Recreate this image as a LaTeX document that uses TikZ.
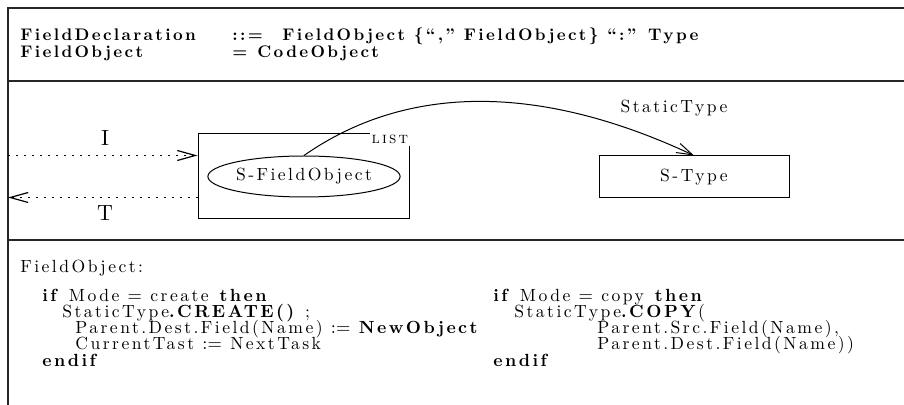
\documentclass[tikz,border=0pt]{standalone}
\usepackage{fontspec}
\setmainfont{lmroman10-regular.otf}[
  BoldFont=lmroman10-bold.otf,
  ItalicFont=lmroman10-italic.otf,
  SmallCapsFont=lmromancaps10-regular.otf,
  LetterSpace=14]
\usepackage{tikz}
\usetikzlibrary{positioning,arrows.meta,shapes.geometric}

\begin{document}
\begin{tikzpicture}[x=0.5pt,y=-0.5pt,font=\fontsize{8.8}{10}\selectfont,
  rule/.style={line width=0.8pt,draw=black!85},
  objbox/.style={draw,line width=0.5pt,inner sep=0pt},
  flow/.style={line width=0.6pt,dash pattern=on 1pt off 3pt,
    -{Straight Barb[length=9pt,width=5pt]}},
  link/.style={line width=0.5pt,-{Straight Barb[length=8pt,width=5pt]}},
  gram/.style={anchor=base west,inner sep=0pt,font=\fontsize{8.4}{10}\selectfont\bfseries},
  code/.style={anchor=base west,inner sep=0pt},
  port/.style={font=\fontsize{11}{13}\selectfont}]
\useasboundingbox (0,0) rectangle (904,405);
% frame and the two separators
\coordinate (frameL) at (8,8);
\draw[rule] (904,8) -- (frameL) -- (8,405);
\draw[rule] (8,81) -- (904,81);
\draw[rule] (8,240) -- (904,240);
% grammar rules
\node[gram] (lhs1) at (20,41) {FieldDeclaration};
\node[gram] (def1) at (232,41) {::=};
\node[gram] (rhs1) at (282,41) {FieldObject \{``,'' FieldObject\} ``:'' Type};
\node[gram] (lhs2) at (20,58) {FieldObject};
\node[gram] (def2) at (232,58) {=};
\node[gram] (rhs2) at (257,58) {CodeObject};
% object diagram
\node[objbox,minimum width=105.5pt,minimum height=42.5pt] (listbox) at (303.5,176.5) {};
\node[objbox,ellipse,minimum width=96pt,minimum height=20.5pt] (sfo) at (304,176.5) {S-FieldObject};
\node[fill=white,anchor=north east,inner sep=1pt,font=\fontsize{8}{10}\selectfont\scshape] (list)
  at ([shift={(1,-1)}]listbox.north east) {list};
\node[objbox,minimum width=95pt,minimum height=21pt] (stype) at (694,177) {S-Type};
\draw[flow] (frameL |- sfo.north) -- (listbox.west |- sfo.north);
\draw[flow] (listbox.west |- sfo.south) -- (frameL |- sfo.south);
\node[port] (inl) at (105,138) {I};
\node[port] (outl) at (105,213) {T};
\draw[link] (sfo.north) .. controls +(103,-72) and +(-154,-72) .. (stype.north);
\node (stlabel) at (674,108) {StaticType};
% code for the object
\node[code] (head) at (20,273) {FieldObject:};
\foreach \x/\y/\txt [count=\i] in {
  42/302/{\textbf{if} Mode $=$ create \textbf{then}},
  62/318/{StaticType\textbf{.CREATE()} ;},
  75/334/{Parent.Dest.Field(Name) $:=$ \textbf{NewObject}},
  75/350/{CurrentTast $:=$ NextTask},
  42/366/{\textbf{endif}}}
  \node[code] (create\i) at (\x,\y) {\txt};
\foreach \x/\y/\txt [count=\i] in {
  493/302/{\textbf{if} Mode $=$ copy \textbf{then}},
  514/318/{StaticType\textbf{.COPY}(},
  597/334/{Parent.Src.Field(Name),},
  597/350/{Parent.Dest.Field(Name))},
  493/366/{\textbf{endif}}}
  \node[code] (copy\i) at (\x,\y) {\txt};
\end{tikzpicture}
\end{document}
